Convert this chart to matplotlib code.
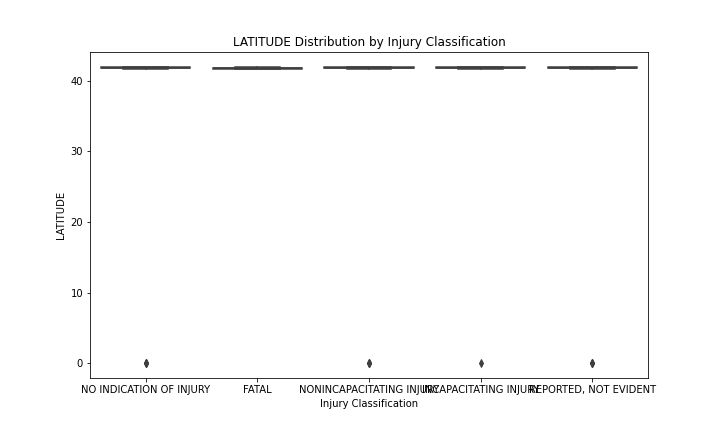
import matplotlib
matplotlib.use("Agg")
import matplotlib.pyplot as plt

categories = ["NO INDICATION OF INJURY", "FATAL", "NONINCAPACITATING INJURY",
              "INCAPACITATING INJURY", "REPORTED, NOT EVIDENT"]
whislo = [41.64, 41.68, 41.64, 41.64, 41.64]
q1 = [41.78, 41.74, 41.78, 41.78, 41.78]
med = [41.86, 41.80, 41.86, 41.86, 41.86]
q3 = [41.92, 41.86, 41.92, 41.92, 41.92]
whishi = [42.02, 41.94, 42.02, 42.02, 42.02]
fliers = [[0.0, 0.0, 0.0], [], [0.0, 0.0, 0.0], [0.0], [0.0, 0.0, 0.0]]

face_colors = ["#3274a1", "#e1812c", "#3a923a", "#c03d3e", "#9372b2"]
line_color = "#3f3f3f"

stats = []
for i, c in enumerate(categories):
    stats.append(dict(label=c, whislo=whislo[i], q1=q1[i], med=med[i],
                      q3=q3[i], whishi=whishi[i], fliers=fliers[i]))

fig = plt.figure(figsize=(10, 6), dpi=72)
ax = fig.add_axes([0.125, 0.125, 0.775, 0.755])

positions = list(range(len(categories)))
bp = ax.bxp(stats, positions=positions, widths=0.8, patch_artist=True,
            boxprops=dict(edgecolor=line_color, linewidth=1.5),
            whiskerprops=dict(color=line_color, linewidth=1.5),
            capprops=dict(color=line_color, linewidth=1.5),
            medianprops=dict(color=line_color, linewidth=1.5),
            flierprops=dict(marker="d", markersize=5, markerfacecolor=line_color,
                            markeredgecolor=line_color, linestyle="none"))
for patch, fc in zip(bp["boxes"], face_colors):
    patch.set_facecolor(fc)

ax.set_xlim(-0.5, len(categories) - 0.5)
ax.set_ylim(-2.1, 44.1)
ax.set_xticks(positions)
ax.set_xticklabels(categories)
ax.set_yticks([0, 10, 20, 30, 40])
ax.set_title("LATITUDE Distribution by Injury Classification")
ax.set_xlabel("Injury Classification")
ax.set_ylabel("LATITUDE")

fig.savefig("out.png", dpi=72)
